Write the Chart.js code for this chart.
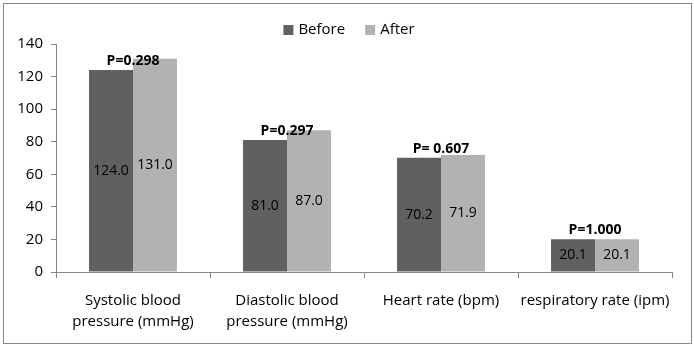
<!DOCTYPE html>
<html lang="en">
  <head>
    <meta charset="UTF-8" />
    <title>Before / After</title>
    <script src="https://cdn.jsdelivr.net/npm/chart.js"></script>
    <style>
      body { margin: 0; background: #fff; }
      .painel { position: relative; width: 694px; height: 350px; }
      .moldura {
        position: absolute; left: 3px; top: 3px; width: 687px; height: 339px;
        border: 1px solid #878787; pointer-events: none;
      }
    </style>
  </head>
  <body>
    <div class="painel">
      <canvas id="myCanvas" width="694" height="350"></canvas>
      <div class="moldura"></div>
    </div>
  </body>
</html>
<script>
  // dados
  const categorias = [
    ["Systolic blood", "pressure (mmHg)"],
    ["Diastolic blood", "pressure (mmHg)"],
    "Heart rate (bpm)",
    "respiratory rate (ipm)",
  ];
  const antes = [124.0, 81.0, 70.2, 20.1];
  const depois = [131.0, 87.0, 71.9, 20.1];
  const valoresP = ["P=0.298", "P=0.297", "P= 0.607", "P=1.000"];
  const ticksY = [0, 20, 40, 60, 80, 100, 120, 140];

  const fonte = "'Open Sans', sans-serif";

  // rótulos dentro das barras + valores de P
  const rotulos = {
    id: "rotulos",
    afterDatasetsDraw(chart) {
      const ctx = chart.ctx;
      ctx.save();
      ctx.textAlign = "center";
      ctx.textBaseline = "middle";
      ctx.fillStyle = "#000";
      ctx.font = "14px " + fonte;
      chart.data.datasets.forEach((ds, d) => {
        chart.getDatasetMeta(d).data.forEach((bar, i) => {
          const meio = (bar.y + bar.base) / 2;
          ctx.fillText(ds.data[i].toFixed(1), bar.x, meio);
        });
      });
      ctx.font = "bold 14px " + fonte;
      ctx.textBaseline = "alphabetic";
      const m0 = chart.getDatasetMeta(0).data;
      const m1 = chart.getDatasetMeta(1).data;
      valoresP.forEach((p, i) => {
        const x = (m0[i].x + m1[i].x) / 2;
        ctx.fillText(p, x, m0[i].y - 5);
      });
      ctx.restore();
    },
  };

  // legenda desenhada à mão (centrada na figura toda)
  const legenda = {
    id: "legenda",
    afterDraw(chart) {
      const ctx = chart.ctx;
      ctx.save();
      ctx.font = "15px " + fonte;
      ctx.textBaseline = "middle";
      ctx.textAlign = "left";
      const itens = chart.data.datasets.map((ds) => ({
        texto: ds.label,
        cor: ds.backgroundColor,
        larg: 10 + 5 + ctx.measureText(ds.label).width,
      }));
      const espaco = 20;
      const total = itens.reduce((s, it) => s + it.larg, 0) + espaco * (itens.length - 1);
      let x = chart.width / 2 + 2 - total / 2;
      const y = 30;
      itens.forEach((it) => {
        ctx.fillStyle = it.cor;
        ctx.fillRect(x, y - 5, 10, 10);
        ctx.fillStyle = "#000";
        ctx.fillText(it.texto, x + 15, y);
        x += it.larg + espaco;
      });
      ctx.restore();
    },
  };

  const config = {
    type: "bar",
    data: {
      labels: categorias,
      datasets: [
        {
          label: "Before",
          data: antes,
          backgroundColor: "#606060",
          categoryPercentage: 0.571,
          barPercentage: 1,
        },
        {
          label: "After",
          data: depois,
          backgroundColor: "#b2b2b2",
          categoryPercentage: 0.571,
          barPercentage: 1,
        },
      ],
    },
    options: {
      responsive: false,
      animation: false,
      layout: { padding: { top: 44, right: 22, bottom: 0, left: 0 } },
      scales: {
        x: {
          grid: {
            drawOnChartArea: false,
            color: "#868686",
            tickLength: 6,
            offset: true,
          },
          border: { color: "#868686" },
          ticks: {
            color: "#000",
            font: { family: fonte, size: 15, lineHeight: 1.35 },
            padding: 13,
            maxRotation: 0,
            autoSkip: false,
          },
          afterFit(scale) {
            scale.height = 78;
          },
        },
        y: {
          min: 0,
          max: 140,
          afterBuildTicks(scale) {
            scale.ticks = ticksY.map((v) => ({ value: v }));
          },
          grid: {
            drawOnChartArea: false,
            color: "#868686",
            tickLength: 5,
          },
          border: { color: "#868686" },
          ticks: {
            color: "#000",
            font: { family: fonte, size: 15 },
            padding: 8,
          },
          afterFit(scale) {
            scale.width = 56;
          },
        },
      },
      plugins: {
        legend: { display: false },
        tooltip: { enabled: false },
      },
    },
    plugins: [rotulos, legenda],
  };

  new Chart(document.getElementById("myCanvas"), config);
</script>
